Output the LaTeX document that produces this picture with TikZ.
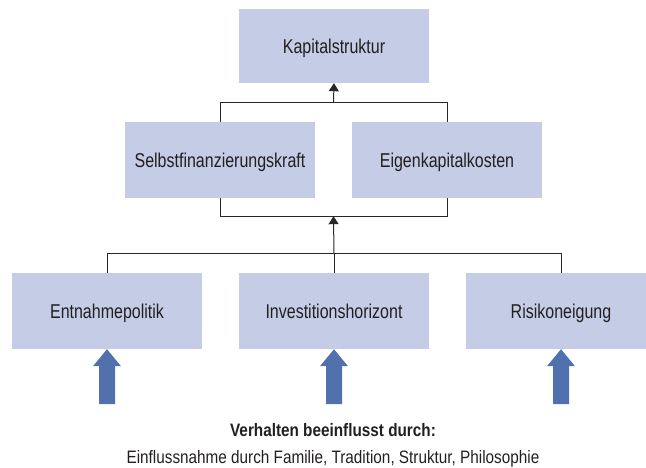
\documentclass[tikz,border=0pt]{standalone}
\usepackage{fontspec}
\setmainfont[FakeStretch=0.80]{Liberation Sans}
\newfontfamily\bottomfont[FakeStretch=0.85]{Liberation Sans}
\usetikzlibrary{arrows.meta,calc}
\definecolor{boxfill}{RGB}{197,204,230}
\definecolor{arrowblue}{RGB}{81,112,174}
\definecolor{txt}{RGB}{35,31,32}
\definecolor{linec}{RGB}{40,40,40}
\tikzset{
  box/.style={fill=boxfill, draw=none, minimum width=190pt, minimum height=76pt, inner sep=0pt,
    font=\fontsize{20}{24}\selectfont, text=txt, text height=14.3pt, text depth=0pt},
  conn/.style={draw=linec, line width=1pt},
  tip/.style={conn, -{Triangle[length=8pt,width=10pt]}},
  fat/.style={fill=arrowblue, draw=none},
  caption/.style={anchor=base, inner sep=0pt, text=txt, font=\bottomfont\fontsize{18}{21}\selectfont}
}
\begin{document}
\begin{tikzpicture}[x=1pt,y=-1pt]
\useasboundingbox (0,0) rectangle (646,468);
\node[box, minimum height=74pt] (kap) at (334,46) {Kapitalstruktur};
\node[box] (sf) at (220,160) {Selbstfinanzierungskraft};
\node[box] (ek) at (447,160) {Eigenkapitalkosten};
\node[box] (ent) at (107,311) {Entnahmepolitik};
\node[box] (inv) at (334,311) {Investitionshorizont};
\node[box] (ris) at (561,311) {Risikoneigung};
% upper bracket
\draw[conn] (sf.north) -- ++(0,-19) -| (ek.north);
\coordinate (up) at ($(sf.north)!0.5!(ek.north)+(0,-19)$);
\draw[tip] (up) -- (kap.south);
% lower bracket
\draw[conn] (sf.south) -- ++(0,18) -| (ek.south);
\coordinate (low) at ($(sf.south)!0.5!(ek.south)+(0,18)$);
\draw[conn] (ent.north) -- ++(0,-19) -| (ris.north);
\draw[conn] (inv.north) -- ++(0,-19) coordinate (j);
\draw[tip] (j) -- (low);
% fat arrows
\foreach \n in {ent,inv,ris}{
  \fill[fat] (\n.south) -- ++(14,17) -- ++(-6,0) -- ++(0,38) -- ++(-16,0) -- ++(0,-38) -- ++(-6,0) -- cycle;
}
\node[caption, font=\bottomfont\fontsize{18}{21}\selectfont\bfseries] (t1) at (333,436) {Verhalten beeinflusst durch:};
\node[caption] (t2) at (333,463) {Einflussnahme durch Familie, Tradition, Struktur, Philosophie};
\end{tikzpicture}
\end{document}
